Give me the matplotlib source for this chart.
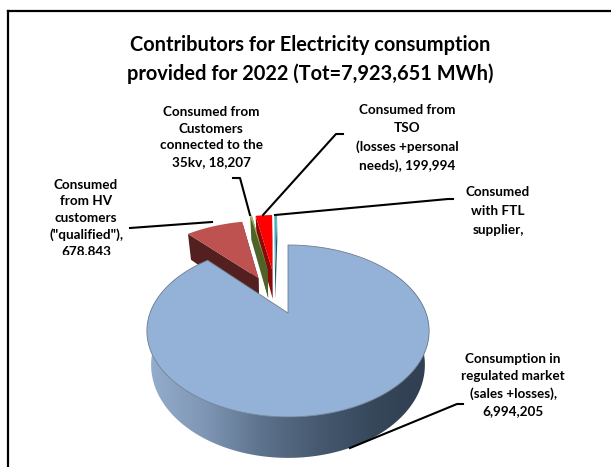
import numpy as np
import matplotlib
matplotlib.use("Agg")
import matplotlib.pyplot as plt
from matplotlib.colors import LinearSegmentedColormap
from matplotlib.patches import Polygon, Rectangle

plt.rcParams["font.family"] = ["Lato", "DejaVu Sans"]

TOTAL = 7923651
names = ["regulated", "hv", "35kv", "tso", "ftl"]
values = [6994205, 678843, 18207, 199994, 32402]
tops = ["#94B1D8", "#BD5250", "#9BBB59", "#FF0000", "#4BACC6"]
walls = ["#5A7188", "#54201F", "#4F6228", "#8A0A0A", "#1F5668"]
# pull-out of each slice on the pie plane (right, back)
explode = [(0, 0), (-0.235, 0.464), (-0.167, 0.60), (-0.128, 0.587), (-0.106, 0.587)]

title = "Contributors for Electricity consumption\nprovided for 2022 (Tot=7,923,651 MWh)"
labels = [
    ("Consumption in\nregulated market\n(sales +losses),\n6,994,205", 513, 385, 1.49),
    ("Consumed\nfrom HV\ncustomers\n(\"qualified\"),\n678,843", 86, 218, 1.45),
    ("Consumed from\nCustomers\nconnected to the\n35kv, 18,207", 211, 137, 1.47),
    ("Consumed from\nTSO\n(losses +personal\nneeds), 199,994", 407, 138, 1.6),
    ("Consumed\nwith FTL\nsupplier,", 498, 211, 1.74),
]
leaders = [
    ([463, 457, 350], [404, 404, 448]),
    ([130, 212], [228, 222]),
    ([233, 240, 250], [178, 178, 215]),
    ([343, 336, 263], [134, 134, 215]),
    ([453, 448, 275], [199, 199, 215]),
]

# perspective of the pie in image pixels
CX, CY = 288, 313
RX, RY, K, DEPTH = 138, 82.2, 0.209, 32.4


def project(x, y, down=0.0):
    s = 1 / (1 + K * y)
    shrink = 1 - 0.03 * down
    return CX + RX * x * s * shrink, CY - RY * y * s + DEPTH * s * down


def rim(a0, a1, off, n=200):
    t = np.radians(np.linspace(a0, a1, n))
    return np.sin(t) + off[0], np.cos(t) + off[1]


fig = plt.figure(figsize=(6.11, 4.67), dpi=100)
ax = fig.add_axes([0, 0, 1, 1])
ax.set_xlim(0, 611)
ax.set_ylim(467, 0)
ax.axis("off")

# frame runs off the right and bottom of the picture
ax.plot([7.5, 7.5], [480, 10.5], color="black", lw=1.6, zorder=1)
ax.plot([7.5, 620], [10.5, 10.5], color="black", lw=1.6, zorder=1)

angles = np.cumsum([0] + values) / TOTAL * 360
shade = LinearSegmentedColormap.from_list(
    "side", ["#95AECD", "#7F97B5", "#5D728C", "#46596F", "#36475A", "#2F3E50"])

# back slices first, the big one goes on top
for i in [4, 3, 2, 1, 0]:
    off = explode[i]
    xs, ys = rim(angles[i], angles[i + 1], off)
    ox, oy = off
    if i > 0:
        for j in (0, -1):
            face = [project(ox, oy), project(xs[j], ys[j]),
                    project(xs[j], ys[j], 1), project(ox, oy, 1)]
            ax.add_patch(Polygon(face, fc=walls[i], ec="none", zorder=2 + (4 - i) * 0.1))
    else:
        # outer wall with the light running left to right
        t = np.radians(np.linspace(60, 300, 260))
        wx, wy = np.sin(t), np.cos(t)
        tx, ty = project(wx, wy)
        bx, by = project(wx, wy, 1)
        outline = np.r_[np.c_[tx, ty], np.c_[bx, by][::-1]]
        wall = Polygon(outline, fc="none", ec="none", zorder=3)
        ax.add_patch(wall)
        grad = np.linspace(0, 1, 256).reshape(1, -1)
        im = ax.imshow(grad, cmap=shade, extent=(147, 433, 467, 250), aspect="auto", zorder=3)
        im.set_clip_path(wall)
        ax.set_xlim(0, 611)
        ax.set_ylim(467, 0)
    px, py = project(np.r_[ox, xs], np.r_[oy, ys])
    edge = "#6E7F92" if i == 0 else "none"
    ax.add_patch(Polygon(np.c_[px, py], fc=tops[i], ec=edge, lw=0.6,
                         zorder=2.5 + (4 - i) * 0.1 if i else 3.5))

for lx, ly in leaders:
    ax.plot(lx, ly, color="black", lw=1.5, zorder=5)

ax.text(310, 59.5, title, ha="center", va="center", fontsize=14.4, fontweight="bold",
        linespacing=1.52, color="black", zorder=6)
# the HV label is cut off by its box in the source picture
clip = Rectangle((0, 0), 611, 254.5, transform=ax.transData)
for text, tx, ty, spacing in labels:
    t = ax.text(tx, ty, text, ha="center", va="center", fontsize=9.7,
                fontweight="bold", linespacing=spacing, color="black", zorder=6)
    if "HV" in text:
        t.set_clip_path(clip)
        t.set_clip_on(True)

fig.savefig("out.png", dpi=100)
